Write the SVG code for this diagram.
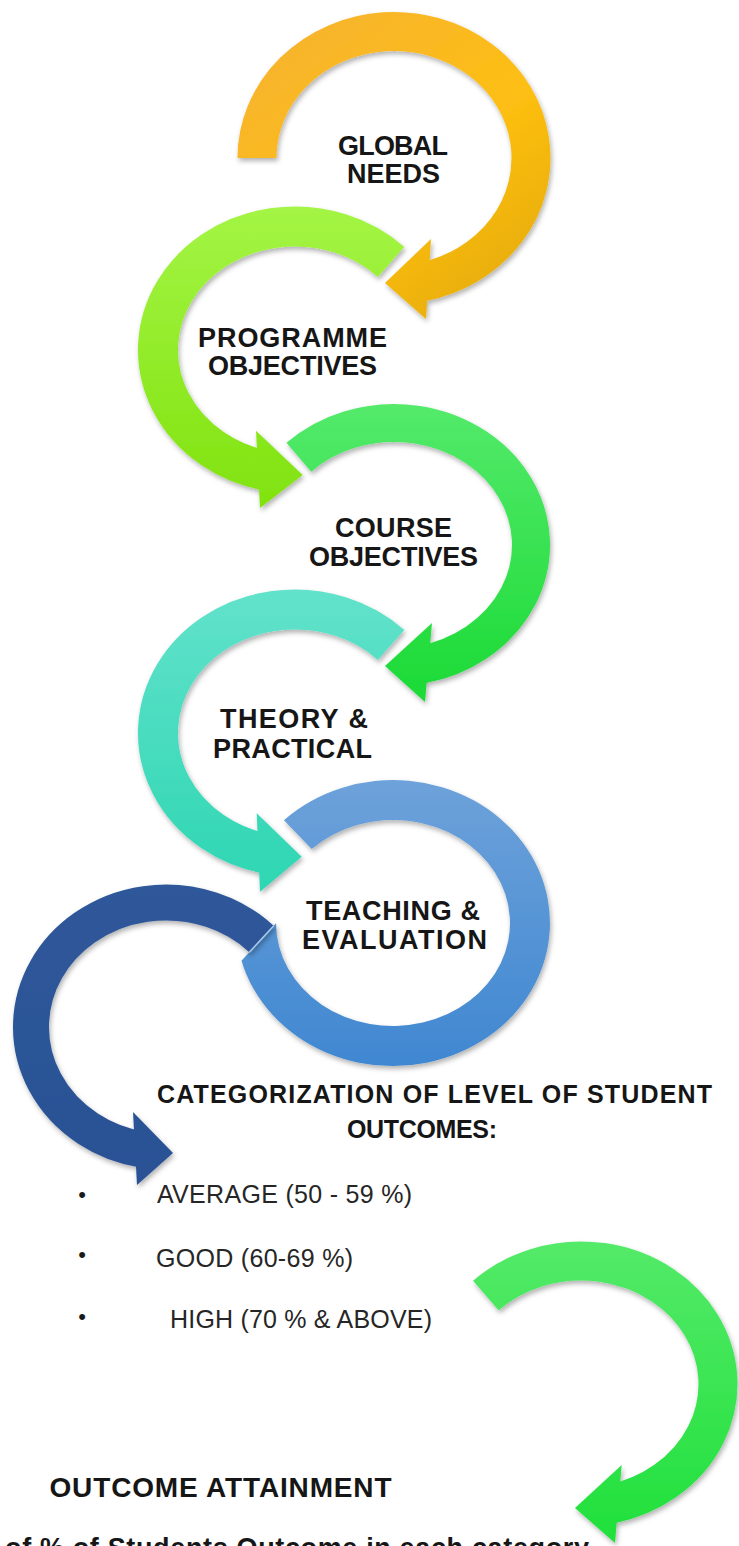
<svg xmlns="http://www.w3.org/2000/svg" width="739" height="1546" viewBox="0 0 739 1546">
<defs>
<style>
.lbl{font-family:"Liberation Sans",Arial,sans-serif;font-weight:bold;font-size:27px;fill:#161616;text-anchor:middle}
.hdr{font-family:"Liberation Sans",Arial,sans-serif;font-weight:bold;font-size:25px;fill:#161616}
.item{font-family:"Liberation Sans",Arial,sans-serif;font-size:25px;fill:#262626}
.bul{font-family:"Liberation Sans",Arial,sans-serif;font-size:22px;fill:#1a1a1a;text-anchor:middle}
.band{fill:none;stroke-linecap:butt}
</style>
<filter id="sh" x="-15%" y="-15%" width="135%" height="135%">
<feDropShadow dx="1.5" dy="3" stdDeviation="2.5" flood-color="#000" flood-opacity="0.3"/>
</filter>
<linearGradient id="g1" gradientUnits="userSpaceOnUse" x1="250" y1="20" x2="480" y2="320">
<stop offset="0" stop-color="#F6B234"/><stop offset="0.6" stop-color="#FDBF12"/><stop offset="1" stop-color="#E6AC05"/>
</linearGradient>
<linearGradient id="g2" gradientUnits="userSpaceOnUse" x1="0" y1="205" x2="0" y2="510">
<stop offset="0" stop-color="#A4F545"/><stop offset="1" stop-color="#80E20E"/>
</linearGradient>
<linearGradient id="g3" gradientUnits="userSpaceOnUse" x1="0" y1="400" x2="0" y2="705">
<stop offset="0" stop-color="#55EA6C"/><stop offset="1" stop-color="#1ADA35"/>
</linearGradient>
<linearGradient id="g4" gradientUnits="userSpaceOnUse" x1="0" y1="590" x2="0" y2="895">
<stop offset="0" stop-color="#62E2CB"/><stop offset="1" stop-color="#2DD6B2"/>
</linearGradient>
<linearGradient id="g5" gradientUnits="userSpaceOnUse" x1="0" y1="778" x2="0" y2="1068">
<stop offset="0" stop-color="#6EA2DA"/><stop offset="1" stop-color="#3F87D1"/>
</linearGradient>
<linearGradient id="g6" gradientUnits="userSpaceOnUse" x1="0" y1="880" x2="0" y2="1190">
<stop offset="0" stop-color="#2E5899"/><stop offset="1" stop-color="#2A5195"/>
</linearGradient>
<linearGradient id="g7" gradientUnits="userSpaceOnUse" x1="0" y1="1240" x2="0" y2="1546">
<stop offset="0" stop-color="#54EA69"/><stop offset="1" stop-color="#1FE03A"/>
</linearGradient>
</defs>
<rect x="0" y="0" width="739" height="1546" fill="#FFFFFF"/>

<g id="node-global-needs">
<g filter="url(#sh)">
<path class="band" d="M 257 158 A 137 126.5 0 1 1 422.48 281.74" stroke="url(#g1)" stroke-width="39"/>
<polygon points="431,239 426,319 385,283" fill="url(#g1)"/>
</g>
<text class="lbl" x="393" y="155" textLength="110">GLOBAL</text>
<text class="lbl" x="393.5" y="183" textLength="93">NEEDS</text>
</g>

<g id="node-programme-objectives">
<g filter="url(#sh)">
<path class="band" d="M 391.02 261.91 A 137 123.5 0 1 0 266.52 470.8" stroke="url(#g2)" stroke-width="40"/>
<polygon points="256,430.7 260,508 302.7,475" fill="url(#g2)"/>
</g>
<text class="lbl" x="292.5" y="347" textLength="189">PROGRAMME</text>
<text class="lbl" x="292.5" y="375" textLength="169">OBJECTIVES</text>
</g>

<g id="node-course-objectives">
<g filter="url(#sh)">
<path class="band" d="M 298.83 457.24 A 137 122 0 1 1 422.48 664.33" stroke="url(#g3)" stroke-width="38"/>
<polygon points="432,623 425,702 385,666" fill="url(#g3)"/>
</g>
<text class="lbl" x="393.5" y="537" textLength="117">COURSE</text>
<text class="lbl" x="393.5" y="566" textLength="169">OBJECTIVES</text>
</g>

<g id="node-theory-practical">
<g filter="url(#sh)">
<path class="band" d="M 391.02 644.91 A 137 123.5 0 1 0 266.52 853.8" stroke="url(#g4)" stroke-width="40"/>
<polygon points="256.7,813.3 260,891.7 301.7,856.7" fill="url(#g4)"/>
</g>
<text class="lbl" x="294" y="728" textLength="148">THEORY &amp;</text>
<text class="lbl" x="292.5" y="758" textLength="159">PRACTICAL</text>
</g>

<g id="node-teaching-evaluation">
<g filter="url(#sh)">
<path d="M 283.94 820.13 A 157 143 0 1 1 241.5 960.7 L 276 923.2 A 117 103 0 1 0 311.72 848.91 Z" fill="url(#g5)"/>
</g>
<text class="lbl" x="393" y="920" textLength="174">TEACHING &amp;</text>
<text class="lbl" x="394.5" y="949" textLength="185">EVALUATION</text>
</g>

<g id="connectors">
<g id="arrow-to-categorization" filter="url(#sh)">
<path class="band" d="M 261.46 938.97 A 135 124.5 0 1 0 142.56 1149.61" stroke="url(#g6)" stroke-width="36"/>
<polygon points="133,1112 137,1185 173,1153" fill="url(#g6)"/>
<line x1="273.7" y1="925.7" x2="249.3" y2="952.2" stroke="#A9C9EC" stroke-width="1.5"/>
</g>
<g id="arrow-to-attainment" filter="url(#sh)">
<path class="band" d="M 485.83 1295.52 A 137 123 0 1 1 611.82 1503.85" stroke="url(#g7)" stroke-width="39"/>
<polygon points="621.7,1465 615,1543 575,1508" fill="url(#g7)"/>
</g>
</g>

<g id="node-categorization">
<text class="hdr" x="157" y="1103" textLength="555">CATEGORIZATION OF LEVEL OF STUDENT</text>
<text class="hdr" x="347" y="1138" textLength="150">OUTCOMES:</text>
<text class="bul" x="82" y="1202">•</text>
<text class="item" x="157" y="1203" textLength="255">AVERAGE (50 - 59 %)</text>
<text class="bul" x="82" y="1262">•</text>
<text class="item" x="156" y="1267" textLength="197">GOOD (60-69 %)</text>
<text class="bul" x="82" y="1324">•</text>
<text class="item" x="170" y="1328" textLength="262">HIGH (70 % &amp; ABOVE)</text>
</g>

<g id="node-outcome-attainment">
<text class="hdr" x="49.5" y="1497" style="font-size:28px" textLength="342">OUTCOME ATTAINMENT</text>
<text class="hdr" x="5" y="1557" style="font-size:27px" textLength="584">of % of Students Outcome in each category</text>
</g>
</svg>
